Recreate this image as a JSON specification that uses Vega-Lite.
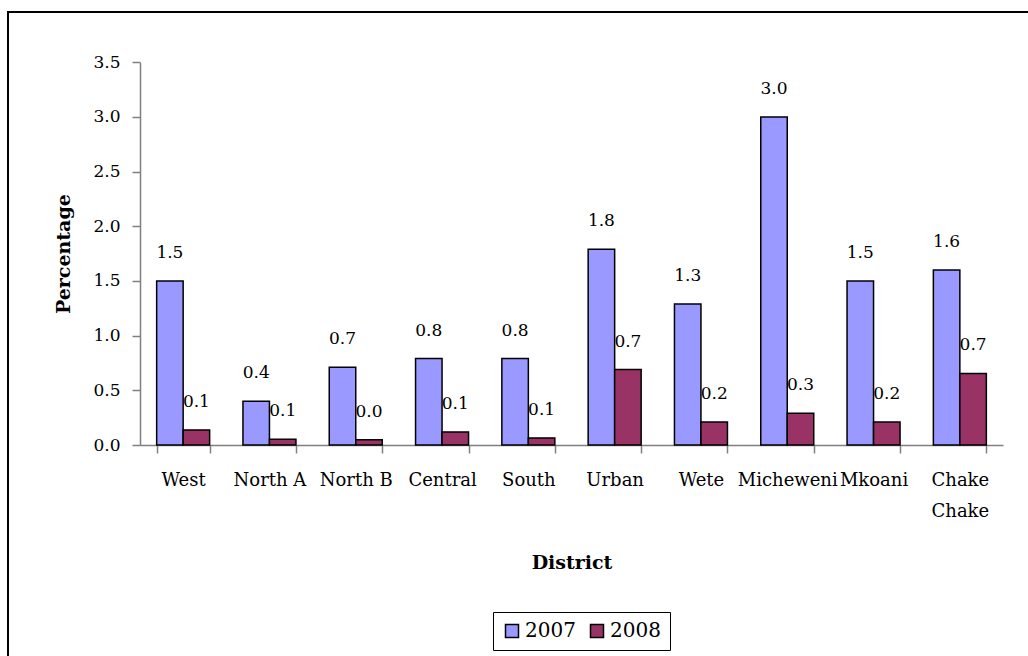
{
  "$schema": "https://vega.github.io/schema/vega-lite/v6.json",
  "width": 1100,
  "height": 700,
  "autosize": {"type": "none"},
  "padding": {"left": 8, "top": 12, "right": 0, "bottom": 0},
  "background": "white",
  "config": {
    "view": {"stroke": "black", "strokeWidth": 2},
    "font": "DejaVu Serif",
    "axis": {
      "domainColor": "#808080",
      "domainWidth": 1.5,
      "tickColor": "#808080",
      "tickWidth": 1.5,
      "tickSize": 8,
      "labelColor": "black",
      "titleColor": "black",
      "labelFont": "DejaVu Serif",
      "titleFont": "DejaVu Serif",
      "labelFontSize": 17,
      "titleFontSize": 19,
      "titleFontWeight": "bold",
      "grid": false
    }
  },
  "data": {
    "values": [
      {"District": "West", "Year": "2007", "Percentage": 1.5},
      {"District": "West", "Year": "2008", "Percentage": 0.137},
      {"District": "North A", "Year": "2007", "Percentage": 0.4},
      {"District": "North A", "Year": "2008", "Percentage": 0.052},
      {"District": "North B", "Year": "2007", "Percentage": 0.71},
      {"District": "North B", "Year": "2008", "Percentage": 0.048},
      {"District": "Central", "Year": "2007", "Percentage": 0.79},
      {"District": "Central", "Year": "2008", "Percentage": 0.12},
      {"District": "South", "Year": "2007", "Percentage": 0.79},
      {"District": "South", "Year": "2008", "Percentage": 0.065},
      {"District": "Urban", "Year": "2007", "Percentage": 1.79},
      {"District": "Urban", "Year": "2008", "Percentage": 0.69},
      {"District": "Wete", "Year": "2007", "Percentage": 1.29},
      {"District": "Wete", "Year": "2008", "Percentage": 0.21},
      {"District": "Micheweni", "Year": "2007", "Percentage": 3.0},
      {"District": "Micheweni", "Year": "2008", "Percentage": 0.29},
      {"District": "Mkoani", "Year": "2007", "Percentage": 1.5},
      {"District": "Mkoani", "Year": "2008", "Percentage": 0.21},
      {"District": "Chake Chake", "Year": "2007", "Percentage": 1.6},
      {"District": "Chake Chake", "Year": "2008", "Percentage": 0.655}
    ]
  },
  "encoding": {
    "x": {
      "field": "District",
      "type": "nominal",
      "sort": null,
      "scale": {"range": [132, 995], "paddingInner": 0.386, "paddingOuter": 0.193},
      "axis": {
        "orient": "bottom",
        "offset": -267,
        "tickBand": "extent",
        "labelAngle": 0,
        "labelFontSize": 18,
        "labelPadding": 18,
        "labelLineHeight": 31,
        "labelExpr": "datum.label == 'Chake Chake' ? ['Chake', 'Chake'] : datum.label",
        "title": "District",
        "titlePadding": 33
      }
    },
    "xOffset": {
      "field": "Year",
      "type": "nominal",
      "scale": {"paddingInner": 0, "paddingOuter": 0}
    },
    "y": {
      "field": "Percentage",
      "type": "quantitative",
      "scale": {"domain": [0, 3.5], "range": [433, 50.3], "nice": false},
      "axis": {
        "orient": "left",
        "offset": -132,
        "values": [0, 0.5, 1, 1.5, 2, 2.5, 3, 3.5],
        "format": ".1f",
        "labelPadding": 12,
        "title": "Percentage",
        "titlePadding": 19
      }
    }
  },
  "layer": [
    {
      "mark": {"type": "bar", "stroke": "black", "strokeWidth": 1.5},
      "encoding": {
        "color": {
          "field": "Year",
          "type": "nominal",
          "scale": {"domain": ["2007", "2008"], "range": ["#9999FF", "#993366"]},
          "legend": {
            "title": null,
            "orient": "none",
            "legendX": 485,
            "legendY": 600,
            "direction": "horizontal",
            "strokeColor": "black",
            "padding": 9,
            "symbolType": "square",
            "symbolSize": 169,
            "symbolStrokeColor": "black",
            "symbolStrokeWidth": 1.5,
            "labelFontSize": 20,
            "labelFont": "DejaVu Serif",
            "labelColor": "black",
            "labelOffset": 3,
            "columnPadding": 11
          }
        }
      }
    },
    {
      "mark": {"type": "text", "dy": -23, "baseline": "alphabetic", "fontSize": 17, "color": "black", "font": "DejaVu Serif"},
      "encoding": {
        "text": {"field": "Percentage", "type": "quantitative", "format": ".1f"}
      }
    }
  ]
}
